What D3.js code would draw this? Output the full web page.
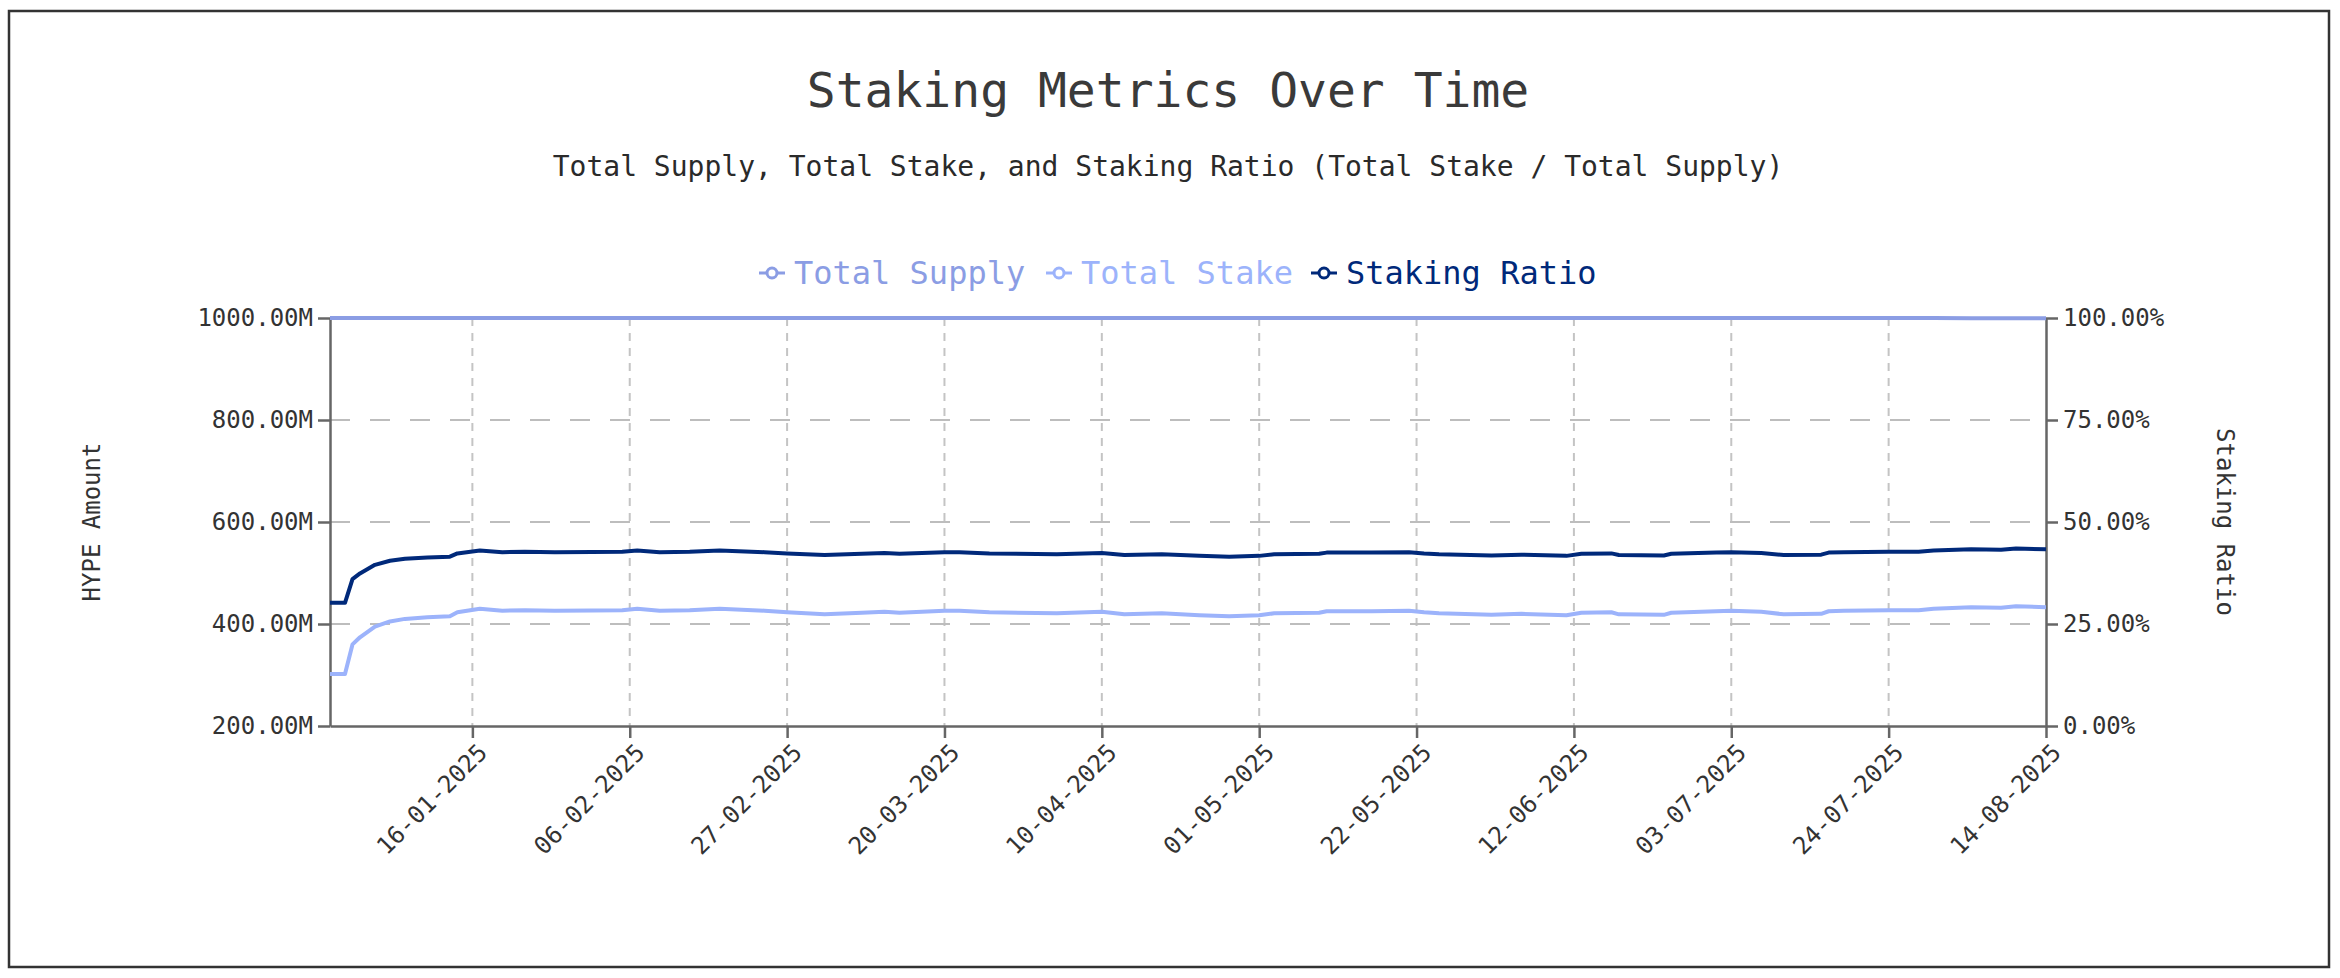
<!DOCTYPE html>
<html>
<head>
  <meta charset="UTF-8">
  <style>
    body { margin: 0; background: #fff; }
    text { font-family: "DejaVu Sans Mono", monospace; }
  </style>
</head>
<body>
<svg></svg>
<script src="https://d3js.org/d3.v7.min.js"></script>

<script>

let width = 2340, height = 978;

// data (values in millions / percent)
let dates = ["2024-12-28","2024-12-30","2024-12-31","2025-01-01","2025-01-03","2025-01-05","2025-01-07","2025-01-10",
  "2025-01-13","2025-01-14","2025-01-17","2025-01-20","2025-01-23","2025-01-27","2025-02-01","2025-02-05","2025-02-07",
  "2025-02-10","2025-02-14","2025-02-18","2025-02-24","2025-02-27","2025-03-04","2025-03-09","2025-03-12","2025-03-14",
  "2025-03-20","2025-03-22","2025-03-26","2025-04-04","2025-04-10","2025-04-13","2025-04-18","2025-04-23","2025-04-27",
  "2025-05-01","2025-05-03","2025-05-09","2025-05-10","2025-05-16","2025-05-21","2025-05-23","2025-05-25","2025-06-01",
  "2025-06-05","2025-06-11","2025-06-13","2025-06-17","2025-06-18","2025-06-24","2025-06-25","2025-07-01","2025-07-03",
  "2025-07-07","2025-07-10","2025-07-15","2025-07-16","2025-07-18","2025-07-24","2025-07-28","2025-07-30","2025-08-04",
  "2025-08-08","2025-08-10","2025-08-14"];

let totalSupply = [1000,1000,1000,1000,1000,1000,1000,1000,1000,1000,1000,1000,1000,1000,1000,1000,1000,
  1000,1000,1000,1000,1000,1000,1000,1000,1000,1000,1000,1000,1000,1000,1000,1000,1000,1000,
  1000,1000,1000,1000,1000,999.9,999.8,999.8,999.8,999.8,999.8,999.8,999.8,999.8,999.8,999.8,999.8,999.8,
  999.8,999.8,999.8,999.8,999.8,999.8,999.8,999.8,999.7,999.7,999.7,999.7];

let totalStake = [302,302,360,374,395,405,410,413,415,423,430,426,427,426,426.5,427,430,
  426,427,430,426,423,419,422,424,422,426,426,423,421,424,419,421,417,415,
  417,421,422,425,425,426,423,421,418,420,417,422,423,419,418,422,425,426,
  424,419,420,425,426,427,427,430,433,432,435,433];

let stakingRatio = [30.2,30.2,36.0,37.4,39.5,40.5,41.0,41.3,41.5,42.3,43.0,42.6,42.7,42.6,42.65,42.7,43.0,
  42.6,42.7,43.0,42.6,42.3,41.9,42.2,42.4,42.2,42.6,42.6,42.3,42.1,42.4,41.9,42.1,41.7,41.5,
  41.7,42.1,42.2,42.5,42.5,42.6,42.3,42.1,41.8,42.0,41.7,42.2,42.3,41.9,41.8,42.2,42.5,42.6,
  42.4,41.9,42.0,42.5,42.6,42.7,42.7,43.0,43.3,43.2,43.5,43.3];

let xTickLabels = ["16-01-2025","06-02-2025","27-02-2025","20-03-2025","10-04-2025","01-05-2025",
  "22-05-2025","12-06-2025","03-07-2025","24-07-2025","14-08-2025"];
let yLeftTicks = [200, 400, 600, 800, 1000];
let yRightTicks = [0, 25, 50, 75, 100];

let colors = { supply: "#8b9de4", stake: "#9cb3fb", ratio: "#00297a" };

let parseDate = d3.timeParse("%Y-%m-%d");
let parseTick = d3.timeParse("%d-%m-%Y");

let rows = dates.map((d, i) => ({
  date: parseDate(d),
  supply: totalSupply[i],
  stake: totalStake[i],
  ratio: stakingRatio[i]
}));

let svg = d3.select("svg")
  .attr("width", width)
  .attr("height", height);

// outer frame
svg.append("rect")
  .attr("x", 9).attr("y", 11)
  .attr("width", 2320).attr("height", 956)
  .attr("fill", "none")
  .attr("stroke", "#333")
  .attr("stroke-width", 2.5);

let plotLeft = 330, plotRight = 2046, plotTop = 318, plotBottom = 726;

let x = d3.scaleTime()
  .domain([parseDate("2024-12-28"), parseDate("2025-08-14")])
  .range([plotLeft, plotRight]);

let yLeft = d3.scaleLinear().domain([200, 1000]).range([plotBottom, plotTop]);
let yRight = d3.scaleLinear().domain([0, 100]).range([plotBottom, plotTop]);

let xTicks = xTickLabels.map(parseTick);

// grid
let grid = svg.append("g");
grid.selectAll(".vgrid")
  .data(xTicks.slice(0, -1))
  .enter().append("line")
  .attr("x1", d => x(d)).attr("x2", d => x(d))
  .attr("y1", plotTop).attr("y2", plotBottom)
  .attr("stroke", "#c4c4c4")
  .attr("stroke-width", 2)
  .attr("stroke-dasharray", "8,7");

grid.selectAll(".hgrid")
  .data(yLeftTicks.slice(1, -1))
  .enter().append("line")
  .attr("x1", plotLeft).attr("x2", plotRight)
  .attr("y1", d => yLeft(d)).attr("y2", d => yLeft(d))
  .attr("stroke", "#bdbdbd")
  .attr("stroke-width", 2)
  .attr("stroke-dasharray", "20,20");

// axes
let axisColor = "#666";

let xAxis = svg.append("g")
  .attr("transform", "translate(0," + plotBottom + ")")
  .call(d3.axisBottom(x).tickValues(xTicks).tickSize(12).tickSizeOuter(0)
    .tickFormat(d3.timeFormat("%d-%m-%Y")));

let yAxisL = svg.append("g")
  .attr("transform", "translate(" + plotLeft + ",0)")
  .call(d3.axisLeft(yLeft).tickValues(yLeftTicks).tickSize(12).tickSizeOuter(0).tickPadding(5)
    .tickFormat(d => d.toFixed(2) + "M"));

let yAxisR = svg.append("g")
  .attr("transform", "translate(" + plotRight + ",0)")
  .call(d3.axisRight(yRight).tickValues(yRightTicks).tickSize(12).tickSizeOuter(0).tickPadding(5)
    .tickFormat(d => d.toFixed(2) + "%"));

[xAxis, yAxisL, yAxisR].forEach(a => {
  a.select(".domain").attr("stroke", axisColor).attr("stroke-width", 2.5);
  a.selectAll(".tick line").attr("stroke", axisColor).attr("stroke-width", 2.5);
  a.selectAll("text")
    .style("font-family", '"DejaVu Sans Mono", monospace')
    .style("font-size", "24px")
    .attr("fill", "#333");
});

// rotated x tick labels: anchor under each tick
xAxis.selectAll(".tick text")
  .attr("text-anchor", "end")
  .attr("x", 10)
  .attr("y", 22)
  .attr("dx", 0)
  .attr("dy", "0.35em")
  .attr("transform", "rotate(-45,10,22)");

// lines
let lineSupply = d3.line().x(d => x(d.date)).y(d => yLeft(d.supply));
let lineStake = d3.line().x(d => x(d.date)).y(d => yLeft(d.stake));
let lineRatio = d3.line().x(d => x(d.date)).y(d => yRight(d.ratio));

svg.append("path").datum(rows)
  .attr("d", lineSupply).attr("fill", "none")
  .attr("stroke", colors.supply).attr("stroke-width", 4);
svg.append("path").datum(rows)
  .attr("d", lineStake).attr("fill", "none")
  .attr("stroke", colors.stake).attr("stroke-width", 4)
  .attr("stroke-linejoin", "round");
svg.append("path").datum(rows)
  .attr("d", lineRatio).attr("fill", "none")
  .attr("stroke", colors.ratio).attr("stroke-width", 4)
  .attr("stroke-linejoin", "round");

// titles
svg.append("text")
  .attr("x", 1168).attr("y", 107)
  .attr("text-anchor", "middle")
  .style("font-size", "48px")
  .attr("fill", "#3a3a3a")
  .text("Staking Metrics Over Time");

svg.append("text")
  .attr("x", 1168).attr("y", 176)
  .attr("text-anchor", "middle")
  .style("font-size", "28px")
  .attr("fill", "#2a2a2a")
  .text("Total Supply, Total Stake, and Staking Ratio (Total Stake / Total Supply)");

svg.append("text")
  .attr("transform", "translate(92,522) rotate(-90)")
  .attr("text-anchor", "middle")
  .attr("dy", "0.35em")
  .style("font-size", "24px")
  .attr("fill", "#333")
  .text("HYPE Amount");

svg.append("text")
  .attr("transform", "translate(2225,522) rotate(90)")
  .attr("text-anchor", "middle")
  .attr("dy", "0.35em")
  .style("font-size", "24px")
  .attr("fill", "#333")
  .text("Staking Ratio");

// legend
let legendItems = [
  { label: "Total Supply", color: colors.supply, x: 772 },
  { label: "Total Stake", color: colors.stake, x: 1059 },
  { label: "Staking Ratio", color: colors.ratio, x: 1324 }
];

let legend = svg.append("g");
let item = legend.selectAll("g")
  .data(legendItems)
  .enter().append("g")
  .attr("transform", d => "translate(" + d.x + ",273)");

item.append("line")
  .attr("x1", -13).attr("x2", 13)
  .attr("stroke", d => d.color).attr("stroke-width", 3);
item.append("circle")
  .attr("r", 5)
  .attr("fill", "#fff")
  .attr("stroke", d => d.color).attr("stroke-width", 3);
item.append("text")
  .attr("x", 22)
  .attr("dy", "0.35em")
  .style("font-size", "32px")
  .attr("fill", d => d.color)
  .text(d => d.label);

</script>

</body>
</html>
